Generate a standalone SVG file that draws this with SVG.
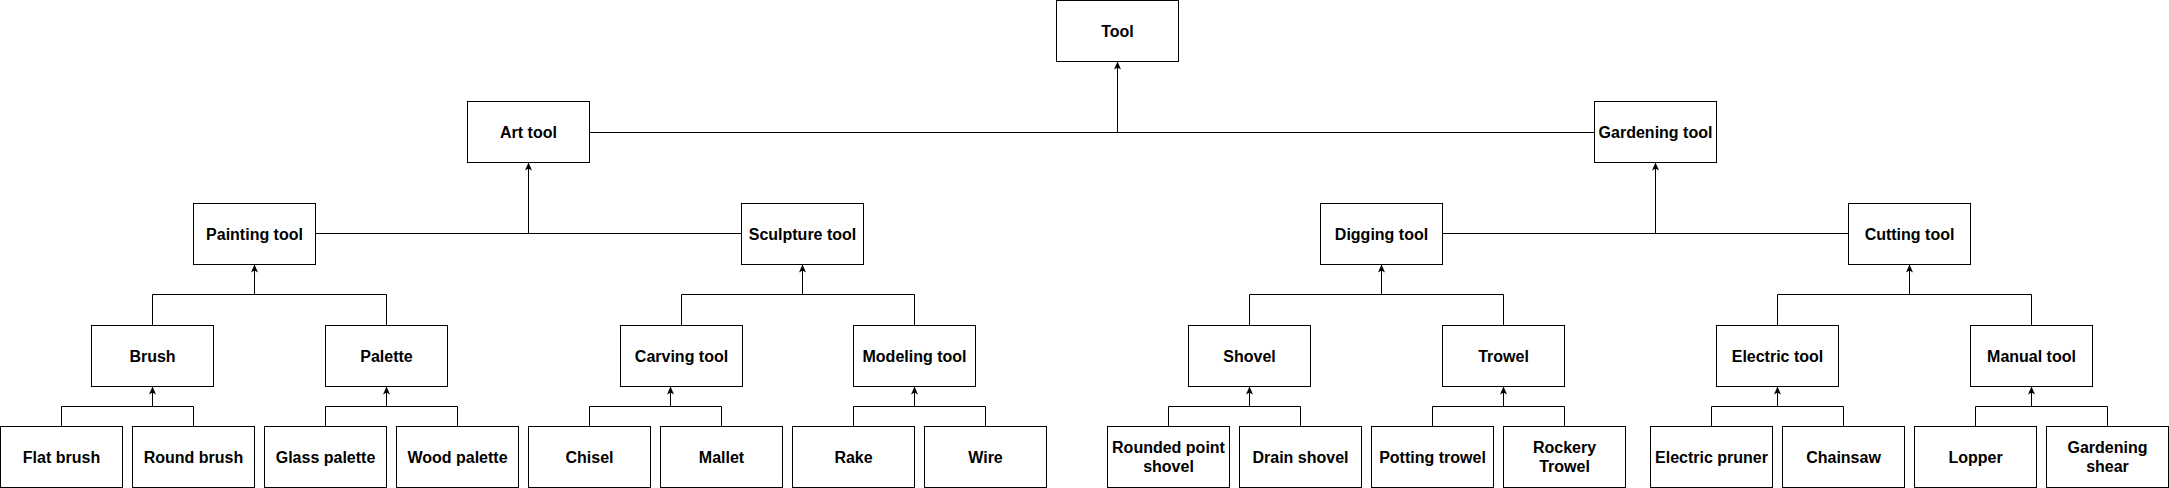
<svg xmlns="http://www.w3.org/2000/svg" width="2169" height="488" viewBox="0 0 2169 488">
<style>
rect{fill:#fff;stroke:#000;stroke-width:1}
text{font-family:"Liberation Sans",Arial,sans-serif;font-weight:bold;font-size:16px;text-anchor:middle;fill:#000}
.c path{fill:none;stroke:#000;stroke-width:1}
.a{marker-end:url(#arr)}
</style>
<defs>
<marker id="arr" viewBox="0 0 8 7" refX="8" refY="3.5" markerWidth="8" markerHeight="7" orient="auto" markerUnits="userSpaceOnUse">
<path d="M0,0 L8,3.5 L0,7 L2,3.5 Z" fill="#000" stroke="none"/>
</marker>
</defs>
<rect x="0" y="0" width="2169" height="488" style="stroke:none"/>
<g class="c" id="connectors">
<path d="M589.5,132.5 H1594.5"/><path class="a" d="M1117.5,132.5 V61.5"/>
<path d="M315.5,233.5 H741.5"/><path class="a" d="M528.5,233.5 V162.5"/>
<path d="M1442.5,233.5 H1848.5"/><path class="a" d="M1655.5,233.5 V162.5"/>
<path d="M152.5,325.5 V294.5 H386.5 V325.5"/><path class="a" d="M254.5,294.5 V264.5"/>
<path d="M681.5,325.5 V294.5 H914.5 V325.5"/><path class="a" d="M802.5,294.5 V264.5"/>
<path d="M1249.5,325.5 V294.5 H1503.5 V325.5"/><path class="a" d="M1381.5,294.5 V264.5"/>
<path d="M1777.5,325.5 V294.5 H2031.5 V325.5"/><path class="a" d="M1909.5,294.5 V264.5"/>
<path d="M61.5,426.5 V406.5 H193.5 V426.5"/><path class="a" d="M152.5,406.5 V386.5"/>
<path d="M325.5,426.5 V406.5 H457.5 V426.5"/><path class="a" d="M386.5,406.5 V386.5"/>
<path d="M589.5,426.5 V406.5 H721.5 V426.5"/><path class="a" d="M670.5,406.5 V386.5"/>
<path d="M853.5,426.5 V406.5 H985.5 V426.5"/><path class="a" d="M914.5,406.5 V386.5"/>
<path d="M1168.5,426.5 V406.5 H1300.5 V426.5"/><path class="a" d="M1249.5,406.5 V386.5"/>
<path d="M1432.5,426.5 V406.5 H1564.5 V426.5"/><path class="a" d="M1503.5,406.5 V386.5"/>
<path d="M1711.5,426.5 V406.5 H1843.5 V426.5"/><path class="a" d="M1777.5,406.5 V386.5"/>
<path d="M1975.5,426.5 V406.5 H2107.5 V426.5"/><path class="a" d="M2031.5,406.5 V386.5"/>
</g>
<g id="tool"><rect x="1056.5" y="0.5" width="122" height="61"/><text x="1117.5" y="36.5">Tool</text></g>
<g id="art-tool"><rect x="467.5" y="101.5" width="122" height="61"/><text x="528.5" y="137.5">Art tool</text></g>
<g id="gardening-tool"><rect x="1594.5" y="101.5" width="122" height="61"/><text x="1655.5" y="137.5">Gardening tool</text></g>
<g id="painting-tool"><rect x="193.5" y="203.5" width="122" height="61"/><text x="254.5" y="239.5">Painting tool</text></g>
<g id="sculpture-tool"><rect x="741.5" y="203.5" width="122" height="61"/><text x="802.5" y="239.5">Sculpture tool</text></g>
<g id="digging-tool"><rect x="1320.5" y="203.5" width="122" height="61"/><text x="1381.5" y="239.5">Digging tool</text></g>
<g id="cutting-tool"><rect x="1848.5" y="203.5" width="122" height="61"/><text x="1909.5" y="239.5">Cutting tool</text></g>
<g id="brush"><rect x="91.5" y="325.5" width="122" height="61"/><text x="152.5" y="361.5">Brush</text></g>
<g id="palette"><rect x="325.5" y="325.5" width="122" height="61"/><text x="386.5" y="361.5">Palette</text></g>
<g id="carving-tool"><rect x="620.5" y="325.5" width="122" height="61"/><text x="681.5" y="361.5">Carving tool</text></g>
<g id="modeling-tool"><rect x="853.5" y="325.5" width="122" height="61"/><text x="914.5" y="361.5">Modeling tool</text></g>
<g id="shovel"><rect x="1188.5" y="325.5" width="122" height="61"/><text x="1249.5" y="361.5">Shovel</text></g>
<g id="trowel"><rect x="1442.5" y="325.5" width="122" height="61"/><text x="1503.5" y="361.5">Trowel</text></g>
<g id="electric-tool"><rect x="1716.5" y="325.5" width="122" height="61"/><text x="1777.5" y="361.5">Electric tool</text></g>
<g id="manual-tool"><rect x="1970.5" y="325.5" width="122" height="61"/><text x="2031.5" y="361.5">Manual tool</text></g>
<g id="flat-brush"><rect x="0.5" y="426.5" width="122" height="61"/><text x="61.5" y="462.5">Flat brush</text></g>
<g id="round-brush"><rect x="132.5" y="426.5" width="122" height="61"/><text x="193.5" y="462.5">Round brush</text></g>
<g id="glass-palette"><rect x="264.5" y="426.5" width="122" height="61"/><text x="325.5" y="462.5">Glass palette</text></g>
<g id="wood-palette"><rect x="396.5" y="426.5" width="122" height="61"/><text x="457.5" y="462.5">Wood palette</text></g>
<g id="chisel"><rect x="528.5" y="426.5" width="122" height="61"/><text x="589.5" y="462.5">Chisel</text></g>
<g id="mallet"><rect x="660.5" y="426.5" width="122" height="61"/><text x="721.5" y="462.5">Mallet</text></g>
<g id="rake"><rect x="792.5" y="426.5" width="122" height="61"/><text x="853.5" y="462.5">Rake</text></g>
<g id="wire"><rect x="924.5" y="426.5" width="122" height="61"/><text x="985.5" y="462.5">Wire</text></g>
<g id="rounded-point-shovel"><rect x="1107.5" y="426.5" width="122" height="61"/><text x="1168.5" y="452.5">Rounded point</text><text x="1168.5" y="472">shovel</text></g>
<g id="drain-shovel"><rect x="1239.5" y="426.5" width="122" height="61"/><text x="1300.5" y="462.5">Drain shovel</text></g>
<g id="potting-trowel"><rect x="1371.5" y="426.5" width="122" height="61"/><text x="1432.5" y="462.5">Potting trowel</text></g>
<g id="rockery-trowel"><rect x="1503.5" y="426.5" width="122" height="61"/><text x="1564.5" y="452.5">Rockery</text><text x="1564.5" y="472">Trowel</text></g>
<g id="electric-pruner"><rect x="1650.5" y="426.5" width="122" height="61"/><text x="1711.5" y="462.5">Electric pruner</text></g>
<g id="chainsaw"><rect x="1782.5" y="426.5" width="122" height="61"/><text x="1843.5" y="462.5">Chainsaw</text></g>
<g id="lopper"><rect x="1914.5" y="426.5" width="122" height="61"/><text x="1975.5" y="462.5">Lopper</text></g>
<g id="gardening-shear"><rect x="2046.5" y="426.5" width="122" height="61"/><text x="2107.5" y="452.5">Gardening</text><text x="2107.5" y="472">shear</text></g>
</svg>
